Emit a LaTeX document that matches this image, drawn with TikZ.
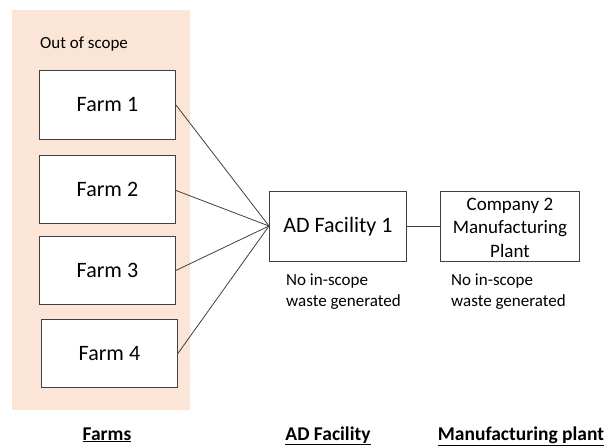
\documentclass[tikz,border=0pt]{standalone}
\usepackage{fontspec}
\setmainfont{Carlito}
\definecolor{scopefill}{HTML}{FBE5D6}
\definecolor{edge}{HTML}{404040}
\begin{document}
\begin{tikzpicture}[x=1pt,y=-1pt,
  box/.style={draw=edge,line width=0.9pt,fill=white,inner sep=0pt,anchor=north west},
  farmtext/.style={font=\fontsize{22}{26}\selectfont},
  note/.style={font=\fontsize{17}{21}\selectfont,align=left,anchor=north west,inner sep=0pt},
  head/.style={font=\bfseries\fontsize{19.5}{23}\selectfont,anchor=base,inner sep=0pt},
  link/.style={draw=edge,line width=0.8pt}]
\useasboundingbox (0,0) rectangle (608,446);
% out-of-scope region
\fill[scopefill] (12,10) rectangle (190,410);
\node[note] (oos) at (40,37) {Out of scope};
% farms
\node[box,minimum width=136pt,minimum height=69pt] (f1) at (39,70) {};
\node[farmtext] at (f1.center) {Farm 1};
\node[box,minimum width=136pt,minimum height=68pt] (f2) at (39,155) {};
\node[farmtext] at (f2.center) {Farm 2};
\node[box,minimum width=136pt,minimum height=68pt] (f3) at (39,236) {};
\node[farmtext] at (f3.center) {Farm 3};
\node[box,minimum width=136pt,minimum height=68pt] (f4) at (41,319) {};
\node[farmtext] at (f4.center) {Farm 4};
% AD facility
\node[box,minimum width=137pt,minimum height=70pt] (ad) at (269,191) {};
\node[farmtext] at (ad.center) {AD Facility 1};
\node[note] (adnote) at (286,274) {No in-scope\\waste generated};
% manufacturing plant
\node[box,minimum width=139pt,minimum height=70pt] (mp) at (440,191) {};
\node[align=center,font=\fontsize{19}{23.5}\selectfont] at ([yshift=-1pt]mp.center) {Company 2\\Manufacturing\\Plant};
\node[note] (mpnote) at (451,274) {No in-scope\\waste generated};
% connectors
\coordinate (adin) at (269,226);
\draw[link] (f1.east) -- (adin);
\draw[link] ([yshift=-1pt]f2.east) -- (adin);
\draw[link] (f3.east) -- (adin);
\draw[link] (f4.east) -- (adin);
\draw[link] (ad.east) -- (mp.west);
% column headings
\node[head] (h1) at (107,440) {\underline{Farms}};
\node[head] (h2) at (328,440) {\underline{AD Facility}};
\node[head] (h3) at (521,440) {\underline{Manufacturing plant}};
\end{tikzpicture}
\end{document}
